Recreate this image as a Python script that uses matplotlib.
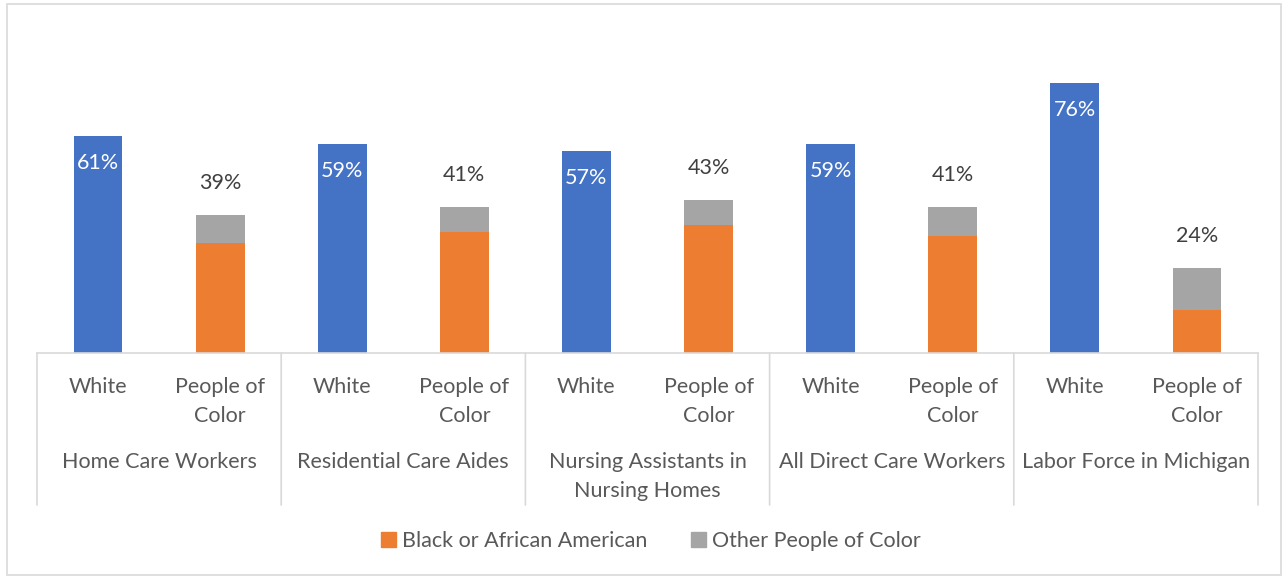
import matplotlib.pyplot as plt
from matplotlib.patches import Rectangle, Patch

plt.rcParams['font.family'] = ['Lato', 'DejaVu Sans']

groups = ["Home Care Workers", "Residential Care Aides", "Nursing Assistants in\nNursing Homes",
          "All Direct Care Workers", "Labor Force in Michigan"]
white = [61, 59, 57, 59, 76]
black = [31, 34, 36, 33, 12]
other = [8, 7, 7, 8, 12]
poc_total = [39, 41, 43, 41, 24]

BLUE = "#4472C4"
ORANGE = "#ED7D31"
GRAY = "#A5A5A5"
TXT = "#595959"
LINE = "#D9D9D9"
FS = 15.5

fig = plt.figure(figsize=(12.84, 5.78), dpi=100)
H = 578.0
W = 1284.0
ax = fig.add_axes([37 / W, (H - 353) / H, (1258 - 37) / W, (353 - 69) / H])

xw = [2 * i for i in range(len(groups))]
xp = [2 * i + 1 for i in range(len(groups))]

ax.bar(xw, white, width=0.4, color=BLUE)
ax.bar(xp, black, width=0.4, color=ORANGE)
ax.bar(xp, other, width=0.4, bottom=black, color=GRAY)

for x, v in zip(xw, white):
    ax.annotate(f"{v}%", xy=(x, v), xytext=(0, -27 * 0.72), textcoords="offset points",
                ha="center", va="center", color="white", fontsize=FS)
for x, v, b, o in zip(xp, poc_total, black, other):
    ax.annotate(f"{v}%", xy=(x, b + o), xytext=(0, 32 * 0.72), textcoords="offset points",
                ha="center", va="center", color="#404040", fontsize=FS)

ax.set_xlim(-0.5, 9.5)
ax.set_ylim(0, 80)
ax.axis("off")

# category axis: baseline, separators and two rows of labels
tr = ax.get_xaxis_transform()
ax.plot([-0.5, 9.5], [0, 0], color=LINE, lw=1.2, transform=tr, clip_on=False)
for k in range(len(groups) + 1):
    ax.annotate("", xy=(2 * k - 0.5, 0), xycoords=tr, xytext=(2 * k - 0.5, -152 * 0.72),
                textcoords=("data", "offset points"),
                arrowprops=dict(arrowstyle="-", color=LINE, lw=1.2, shrinkA=0, shrinkB=0))


def label(text, x, px_below):
    ax.annotate(text, xy=(x, 0), xycoords=tr, xytext=(0, -px_below * 0.72),
                textcoords="offset points", ha="center", va="baseline",
                color=TXT, fontsize=FS, annotation_clip=False)


for i, g in enumerate(groups):
    label("White", xw[i], 40)
    label("People of", xp[i], 40)
    label("Color", xp[i], 69)
    lines = g.split("\n")
    for j, ln in enumerate(lines):
        label(ln, 2 * i + 0.5, 115 + 29 * j)

handles = [Patch(color=ORANGE, label="Black or African American"),
           Patch(color=GRAY, label="Other People of Color")]
leg = fig.legend(handles=handles, loc="center", bbox_to_anchor=(651 / W, (H - 541) / H),
                 ncol=2, frameon=False, fontsize=FS, handlelength=0.7, handleheight=0.7,
                 handletextpad=0.3, columnspacing=2.0)
for t in leg.get_texts():
    t.set_color(TXT)

fig.patches.append(Rectangle((7 / W, 3 / H), 1274 / W, 571 / H, transform=fig.transFigure,
                             fill=False, edgecolor=LINE, lw=1.2))

fig.savefig("out.png", dpi=100)
